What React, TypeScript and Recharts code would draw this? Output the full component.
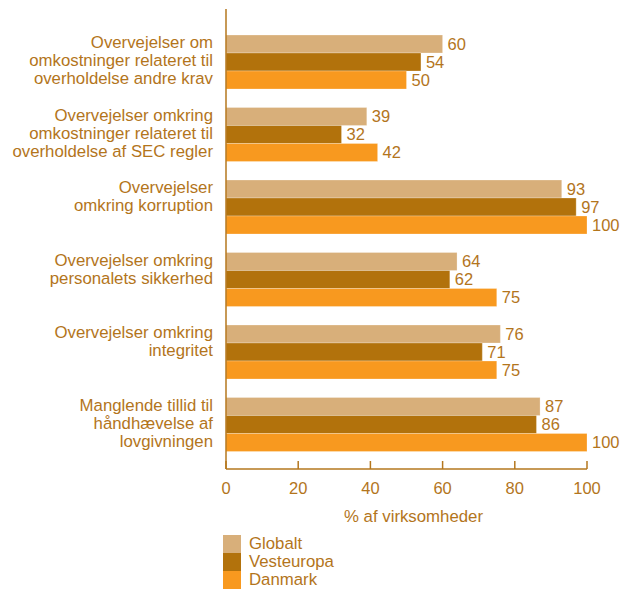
import React from "react";
import { BarChart, Bar, XAxis, YAxis, LabelList, Legend, Label } from "recharts";

const categories = [
  "Overvejelser om\nomkostninger relateret til\noverholdelse andre krav",
  "Overvejelser omkring\nomkostninger relateret til\noverholdelse af SEC regler",
  "Overvejelser\nomkring korruption",
  "Overvejelser omkring\npersonalets sikkerhed",
  "Overvejelser omkring\nintegritet",
  "Manglende tillid til\nhåndhævelse af\nlovgivningen",
];
const globalt = [60, 39, 93, 64, 76, 87];
const vesteuropa = [54, 32, 97, 62, 71, 86];
const danmark = [50, 42, 100, 75, 75, 100];
const xTicks = [0, 20, 40, 60, 80, 100];
const xLabel = "% af virksomheder";
const seriesNames = ["Globalt", "Vesteuropa", "Danmark"];

const data = categories.map((name, i) => ({
  name,
  Globalt: globalt[i],
  Vesteuropa: vesteuropa[i],
  Danmark: danmark[i],
}));

const TEXT = "#B3751C";
const AXIS = "#B5771E";
const COLORS = ["#D8AF7A", "#B2720C", "#F8991F"];

const YTick = (props: any) => {
  const { x, y, payload } = props;
  const lines = String(payload.value).split("\n");
  return (
    <text x={x} y={y - 14} textAnchor="end" fill={TEXT} fontSize={16.8}>
      {lines.map((l, i) => (
        <tspan key={i} x={x} dy={i === 0 ? 0 : 18}>
          {l}
        </tspan>
      ))}
    </text>
  );
};

const XTick = (props: any) => {
  const { x, y, payload } = props;
  return (
    <g>
      <line x1={x} x2={x} y1={y - 8} y2={y} stroke={AXIS} strokeWidth={1.5} />
      <text x={x} y={y + 25} textAnchor="middle" fill={TEXT} fontSize={16.5}>
        {payload.value}
      </text>
    </g>
  );
};

const LegendContent = (props: any) => {
  const payload = [...(props.payload || [])].sort(
    (a: any, b: any) => seriesNames.indexOf(a.value) - seriesNames.indexOf(b.value)
  );
  return (
    <div>
      {payload.map((p: any, i: number) => (
        <div key={i} style={{ display: "flex", alignItems: "center", height: 18 }}>
          <div style={{ width: 18, height: 18, background: p.color }} />
          <span style={{ marginLeft: 8, color: TEXT, fontSize: 16.8, lineHeight: "18px" }}>
            {p.value}
          </span>
        </div>
      ))}
    </div>
  );
};

export default function App() {
  return (
    <div
      style={{
        position: "absolute",
        left: 0,
        top: 0,
        width: 621,
        height: 590,
        fontFamily: "'Liberation Sans', Arial, sans-serif",
      }}
    >
      <BarChart
        width={621}
        height={590}
        layout="vertical"
        data={data}
        margin={{ top: 9, right: 34, left: 0, bottom: 60 }}
        barGap={0}
      >
        <XAxis
          type="number"
          domain={[0, 100]}
          ticks={xTicks}
          height={61}
          axisLine={{ stroke: AXIS, strokeWidth: 1.5 }}
          tickLine={false}
          tickSize={0}
          tickMargin={0}
          tick={<XTick />}
          interval={0}
        >
          <Label
            content={(p: any) => {
              const vb = p.viewBox || {};
              return (
                <text
                  x={vb.x + vb.width / 2 + 7}
                  y={vb.y + 53}
                  textAnchor="middle"
                  fill={TEXT}
                  fontSize={16.8}
                >
                  {xLabel}
                </text>
              );
            }}
          />
        </XAxis>
        <YAxis
          type="category"
          dataKey="name"
          width={226}
          axisLine={{ stroke: AXIS, strokeWidth: 1.5 }}
          tickLine={false}
          tickSize={0}
          tickMargin={13}
          tick={<YTick />}
          interval={0}
          padding={{ top: 17, bottom: 8 }}
        />
        <Legend
          layout="vertical"
          align="center"
          verticalAlign="middle"
          content={<LegendContent />}
          wrapperStyle={{ position: "absolute", left: 223, top: 535, width: 200 }}
        />
        {seriesNames.map((s, i) => (
          <Bar
            key={s}
            dataKey={s}
            name={s}
            fill={COLORS[i]}
            barSize={18}
            stroke="#ffffff"
            strokeOpacity={0.5}
            strokeWidth={0.5}
            isAnimationActive={false}
          >
            <LabelList dataKey={s} position="right" offset={5} fill={TEXT} fontSize={16.5} />
          </Bar>
        ))}
      </BarChart>
    </div>
  );
}
